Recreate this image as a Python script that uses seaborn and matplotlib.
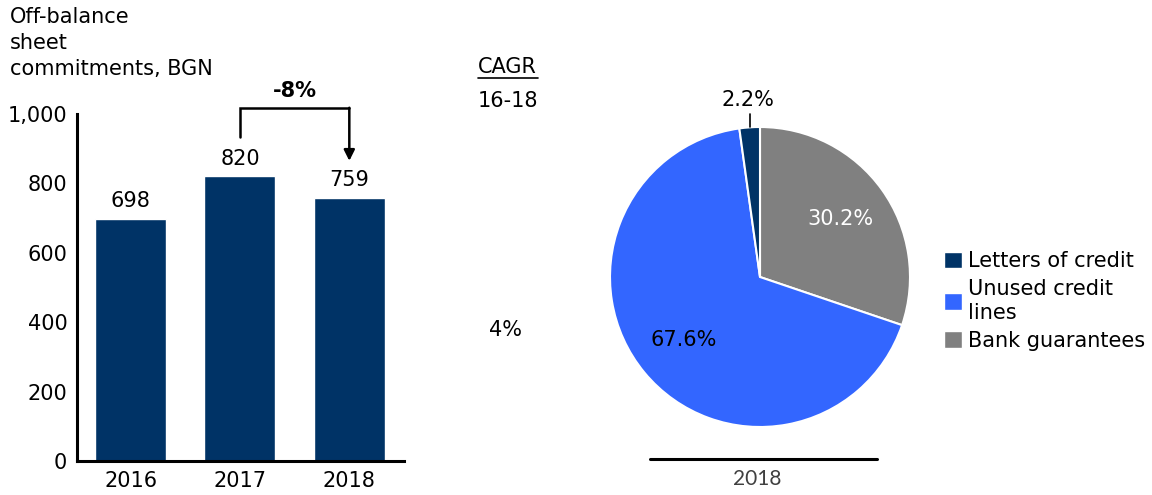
import matplotlib
matplotlib.use("Agg")
import matplotlib.pyplot as plt
import seaborn as sns
import pandas as pd
from matplotlib.lines import Line2D
from matplotlib.patches import Patch

# data
years = ["2016", "2017", "2018"]
commitments = [698, 820, 759]
change_label = "-8%"
cagr_value = "4%"

pie_labels = ["Bank guarantees", "Unused credit\nlines", "Letters of credit"]
pie_shares = [30.2, 67.6, 2.2]
pie_year = "2018"

navy = "#003366"
blue = "#3366ff"
grey = "#808080"
pie_colors = [grey, blue, navy]

sns.set_style("white")
plt.rcParams["font.family"] = ["DejaVu Sans"]
plt.rcParams["font.size"] = 15
plt.rcParams["text.color"] = "black"
plt.rcParams["xtick.color"] = "black"
plt.rcParams["ytick.color"] = "black"

fs = 15

fig = plt.figure(figsize=(11.52, 4.95), dpi=100)

# --- bar chart ---
ax = fig.add_axes([77 / 1152, 34 / 495, 327 / 1152, 347 / 495])
df = pd.DataFrame({"year": years, "value": commitments})
sns.barplot(data=df, x="year", y="value", color=navy, width=0.65,
            saturation=1, ax=ax)
ax.set_xlim(-0.49, 2.5)
ax.set_ylim(0, 1000)
ax.set_yticks([0, 200, 400, 600, 800, 1000])
ax.set_yticklabels(["0", "200", "400", "600", "800", "1,000"])
ax.set_xlabel("")
ax.set_ylabel("")
for s in ["top", "right"]:
    ax.spines[s].set_visible(False)
for s in ["left", "bottom"]:
    ax.spines[s].set_linewidth(2.2)
    ax.spines[s].set_color("black")
ax.tick_params(axis="y", length=5, width=1.5, pad=2, labelsize=fs)
ax.tick_params(axis="x", length=0, pad=7, labelsize=fs)

for i, v in enumerate(commitments):
    ax.text(i, v + 22, f"{v}", ha="center", va="bottom", fontsize=fs)

# bracket with arrow 2017 -> 2018
ax.plot([1, 1, 2], [934, 1017, 1017], color="black", lw=1.8,
        clip_on=False, solid_joinstyle="miter")
ax.annotate("", xy=(2, 865), xytext=(2, 1018),
            arrowprops=dict(arrowstyle="-|>", color="black", lw=1.8,
                            mutation_scale=16, shrinkA=0, shrinkB=0),
            annotation_clip=False)
ax.text(1.5, 1066, change_label, ha="center", va="center", fontsize=fs,
        fontweight="bold")

# title
fig.text(10 / 1152, 1 - 7 / 495, "Off-balance\nsheet\ncommitments, BGN",
         ha="left", va="top", fontsize=fs, linespacing=1.38)

# CAGR column
fig.text(478 / 1152, 1 - 67 / 495, "CAGR", ha="left", va="center", fontsize=fs)
fig.add_artist(Line2D([478 / 1152, 538 / 1152], [1 - 78 / 495, 1 - 78 / 495],
                      color="black", lw=1.2))
fig.text(478 / 1152, 1 - 101 / 495, "16-18", ha="left", va="center", fontsize=fs)
fig.text(505 / 1152, 1 - 330 / 495, cagr_value, ha="center", va="center",
         fontsize=fs)

# --- pie chart ---
pax = fig.add_axes([610 / 1152, 68 / 495, 300 / 1152, 300 / 495])
wedges, texts, autotexts = pax.pie(
    pie_shares, colors=pie_colors, startangle=90, counterclock=False,
    autopct=lambda p: f"{p:.1f}%", pctdistance=0.66,
    wedgeprops=dict(edgecolor="white", linewidth=1.5),
    textprops=dict(fontsize=fs))
pax.set_xlim(-1, 1)
pax.set_ylim(-1, 1)
pax.set_aspect("equal")
autotexts[0].set_color("white")
autotexts[1].set_color("black")
autotexts[2].set_position((-0.08, 1.18))
pax.plot([-0.07, -0.07], [1.0, 1.09], color="black", lw=1.2, clip_on=False)
for t in autotexts:
    t.set_clip_on(False)

handles = [Patch(facecolor=navy), Patch(facecolor=blue), Patch(facecolor=grey)]
fig.legend(handles, ["Letters of credit", "Unused credit\nlines", "Bank guarantees"],
           loc="center left", bbox_to_anchor=(934 / 1152, 1 - 301 / 495),
           frameon=False, fontsize=fs, handlelength=0.85, handleheight=0.85,
           handletextpad=0.3, labelspacing=0.4, borderpad=0)

fig.add_artist(Line2D([650 / 1152, 877 / 1152], [1 - 459 / 495, 1 - 459 / 495],
                      color="black", lw=2.2))
fig.text(757 / 1152, 1 - 479 / 495, pie_year, ha="center", va="center",
         fontsize=fs, color="#404040", family=["Lato", "DejaVu Sans"])

fig.savefig("out.png", dpi=100)
